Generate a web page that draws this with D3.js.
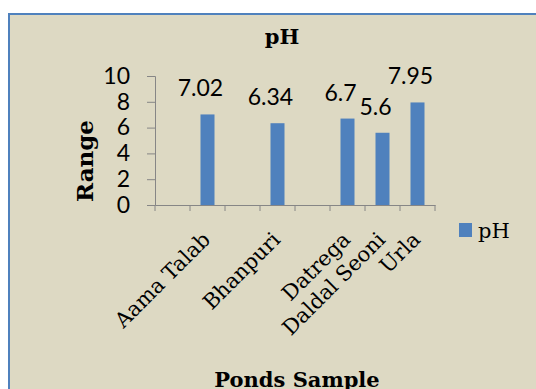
<!DOCTYPE html>
<html>
<head>
<meta charset="utf-8">
<title>pH</title>
<script src="https://cdn.jsdelivr.net/npm/d3@7"></script>
<style>
  body { margin:0; background:#fff; }
</style>
</head>
<body>
<svg id="chart" width="536" height="389"></svg>
<script>
// ---data---
var categories = ["", "Aama Talab", "", "Bhanpuri", "", "Datrega", "Daldal Seoni", "Urla"]
var phValues = [null, 7.02, null, 6.34, null, 6.7, 5.6, 7.95]
var yTicks = [0, 2, 4, 6, 8, 10]
var seriesName = "pH"

var svg = d3.select("#chart")
var serif = "'DejaVu Serif', serif"
var sans = "Lato, 'Open Sans', sans-serif"

//---chart area---
svg.append("rect")
  .attr("x", 9).attr("y", 14)
  .attr("width", 540).attr("height", 390)
  .attr("fill", "#ddd9c3")
  .attr("stroke", "#4f81bd")
  .attr("stroke-width", 2)

svg.append("text")
  .text("pH")
  .attr("x", 282).attr("y", 44)
  .attr("text-anchor", "middle")
  .attr("font-family", serif)
  .attr("font-weight", "bold")
  .attr("font-size", 21)

var plotLeft = 155, plotRight = 435, plotTop = 76, plotBottom = 205

var x = d3.scaleBand()
  .domain(d3.range(categories.length))
  .range([plotLeft, plotRight])
  .padding(0)

var y = d3.scaleLinear()
  .domain([0, 10])
  .range([plotBottom, plotTop])

var axisColor = "#868686"

//---y axis---
var yAxis = svg.append("g")
  .attr("transform", "translate(" + plotLeft + ",0)")
  .call(d3.axisLeft(y).tickValues(yTicks).tickSize(8).tickPadding(17))
yAxis.select(".domain").attr("stroke", axisColor)
yAxis.selectAll(".tick line").attr("stroke", axisColor)
yAxis.selectAll("text")
  .attr("font-family", sans)
  .attr("font-size", 23)
  .attr("fill", "#000")

//---bars---
var points = phValues.map(function(v, i) { return {i: i, v: v} }).filter(function(d) { return d.v != null })
var barW = 14
svg.selectAll(".bar")
  .data(points)
  .enter().append("rect")
  .attr("class", "bar")
  .attr("x", function(d) { return x(d.i) + x.bandwidth() / 2 - barW / 2 })
  .attr("y", function(d) { return y(d.v) })
  .attr("width", barW)
  .attr("height", function(d) { return plotBottom - y(d.v) })
  .attr("fill", "#4f81bd")

svg.selectAll(".lbl")
  .data(points)
  .enter().append("text")
  .attr("class", "lbl")
  .text(function(d) { return d.v })
  .attr("x", function(d) { return x(d.i) + x.bandwidth() / 2 - 7 })
  .attr("y", function(d) { return y(d.v) - 18 })
  .attr("text-anchor", "middle")
  .attr("font-family", sans)
  .attr("font-size", 23)

//---x axis---
var xAxis = svg.append("g")
  .attr("transform", "translate(0," + plotBottom + ")")
  .call(d3.axisBottom(x).tickSize(0).tickFormat(function(i) { return categories[i] }))
xAxis.select(".domain").attr("stroke", axisColor)
// ticks at category boundaries
xAxis.selectAll(".bound")
  .data(d3.range(categories.length + 1))
  .enter().append("line")
  .attr("x1", function(i) { return plotLeft + i * x.bandwidth() })
  .attr("x2", function(i) { return plotLeft + i * x.bandwidth() })
  .attr("y1", 0).attr("y2", 6)
  .attr("stroke", axisColor)
xAxis.selectAll(".tick text")
  .attr("font-family", serif)
  .attr("font-size", 21)
  .attr("fill", "#000")
  .attr("text-anchor", "end")
  .attr("dy", 0)
  .attr("transform", "translate(4,36) rotate(-45)")
  .attr("y", 0)

//---axis titles---
svg.append("text")
  .text("Range")
  .attr("transform", "translate(93,161) rotate(-90)")
  .attr("text-anchor", "middle")
  .attr("font-family", serif)
  .attr("font-weight", "bold")
  .attr("font-size", 23)

svg.append("text")
  .text("Ponds Sample")
  .attr("x", 297).attr("y", 387)
  .attr("text-anchor", "middle")
  .attr("font-family", serif)
  .attr("font-weight", "bold")
  .attr("font-size", 21)

//---legend---
svg.append("rect")
  .attr("x", 459).attr("y", 223)
  .attr("width", 13).attr("height", 14)
  .attr("fill", "#4f81bd")
svg.append("text")
  .text(seriesName)
  .attr("x", 478).attr("y", 238)
  .attr("font-family", serif)
  .attr("font-size", 21)
</script>
</body>
</html>
